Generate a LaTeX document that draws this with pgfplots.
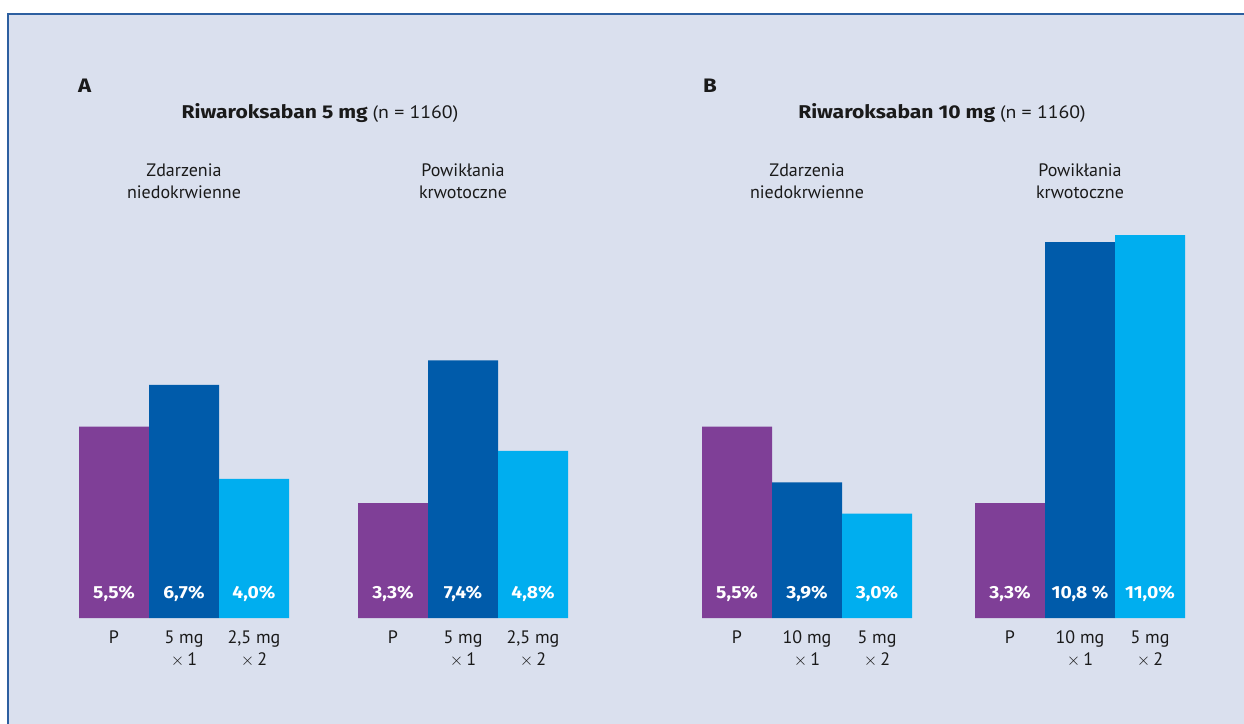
\documentclass[border=0pt]{standalone}
\usepackage{pgfplots}
\pgfplotsset{compat=1.18}
\usepackage{fontspec}
\setmainfont{PT Sans}
\newfontfamily\bfontT{Fira Sans}[FakeStretch=1.14]
\newfontfamily\bfontV{Fira Sans}[FakeStretch=1.1]
\newfontfamily\regw{PT Sans}[FakeStretch=1.1]
\definecolor{bg}{HTML}{DAE0EE}
\definecolor{frame}{HTML}{2D5FA0}
\definecolor{cpurple}{HTML}{7F3F97}
\definecolor{cdblue}{HTML}{005BAA}
\definecolor{clblue}{HTML}{00AEEF}
\definecolor{txt}{HTML}{1A1A1A}
\newcommand\fs[1]{\fontsize{#1}{#1}\selectfont}
\newcommand\B[1]{{\bfontT\bfseries #1}}
\begin{document}
\begin{tikzpicture}[x=1pt,y=1pt]
\useasboundingbox (0,0) rectangle (1244,723);
\fill[bg] (8,-5) rectangle (1250,709);
\draw[frame, line width=1.5pt] (8,-5) -- (8,709) -- (1250,709);
\begin{axis}[at={(0pt,0pt)}, anchor=south west, scale only axis,
  width=1244pt, height=723pt, xmin=0, xmax=1244, ymin=-3.0172, ymax=17.7586,
  hide axis, clip=false]
\addplot[ybar, bar width=70, bar shift=0pt, fill=cpurple, draw=none]
  coordinates {(114,5.5) (393,3.3) (737,5.5) (1010,3.3)};
\addplot[ybar, bar width=70, bar shift=0pt, fill=cdblue, draw=none]
  coordinates {(184,6.7) (463,7.4) (807,3.9) (1080,10.8)};
\addplot[ybar, bar width=70, bar shift=0pt, fill=clblue, draw=none]
  coordinates {(254,4.0) (533,4.8) (877,3.0) (1150,11.0)};
\addplot[draw=none, mark=none, nodes near coords, point meta=explicit symbolic,
  nodes near coords style={anchor=base, inner sep=0pt, text=white, font=\fs{17.5}\bfontV\bfseries}]
  coordinates {(114,0.566)[5,5\%] (184,0.566)[6,7\%] (254,0.566)[4,0\%]
               (393,0.566)[3,3\%] (463,0.566)[7,4\%] (533,0.566)[4,8\%]
               (737,0.566)[5,5\%] (807,0.566)[3,9\%] (877,0.566)[3,0\%]
               (1010,0.566)[3,3\%] (1080,0.566)[10,8 \%] (1150,0.566)[11,0\%]};
\end{axis}
\begin{scope}[every node/.style={inner sep=0pt, text=txt}]
\node[anchor=base west, font=\fs{19.5}] at (78,630.5) {\B{A}};
\node[anchor=base west, font=\fs{19.5}] at (703,630.5) {\B{B}};
\node[anchor=base, font=\fs{18.5}] at (320,604) {\B{Riwaroksaban 5 mg} {\regw\fs{18}(n = 1160)}};
\node[anchor=base, font=\fs{18.5}] at (942,604) {\B{Riwaroksaban 10 mg} {\regw\fs{18}(n = 1160)}};
% headers
\foreach \x in {184,807} {
  \node[anchor=base, font=\fs{18}] at (\x,546.3) {Zdarzenia};
  \node[anchor=base, font=\fs{18}] at (\x,524.7) {niedokrwienne};
}
\foreach \x in {463,1080} {
  \node[anchor=base, font=\fs{18}] at (\x,546.3) {Powikłania};
  \node[anchor=base, font=\fs{18}] at (\x,524.7) {krwotoczne};
}
% category labels
\foreach \x in {114,393,737,1010} {
  \node[anchor=base, font=\fs{18}] at (\x,79.7) {P};
}
\foreach \x/\a/\b in {184/5 mg/1, 254/{2,5 mg}/2, 463/5 mg/1, 533/{2,5 mg}/2,
                      807/10 mg/1, 877/5 mg/2, 1080/10 mg/1, 1150/5 mg/2} {
  \node[anchor=base, font=\fs{18}] at (\x,79.7) {\a};
  \node[anchor=base, font=\fs{18}] at (\x,58) {$\times$\,\b};
}
\end{scope}
\end{tikzpicture}
\end{document}
